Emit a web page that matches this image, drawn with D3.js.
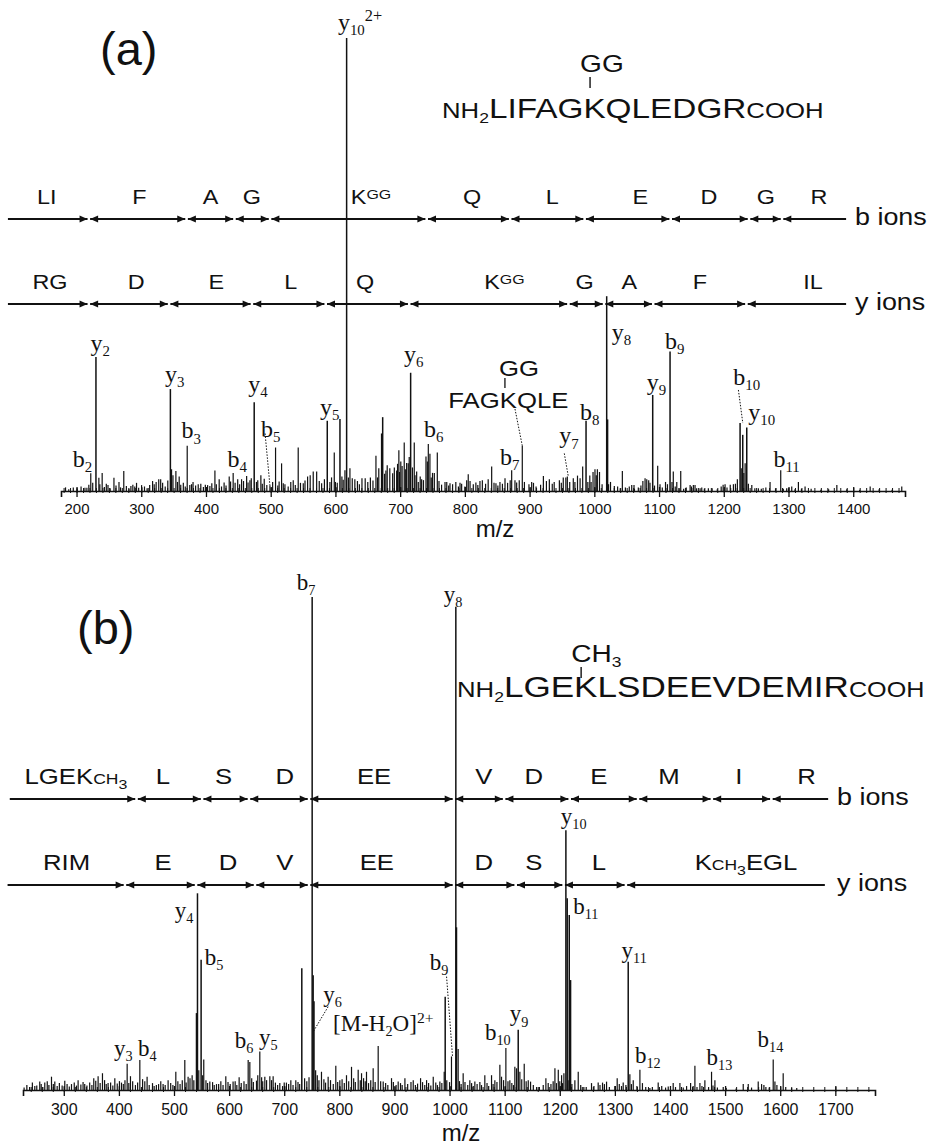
<!DOCTYPE html>
<html>
<head>
<meta charset="utf-8">
<script src="https://cdn.jsdelivr.net/npm/d3@7"></script>
<style>
body { margin: 0; background: #fff; }
svg { display: block; }
</style>
</head>
<body>
<script>
// ---------- panel (a): NH2-LIFAGK(GG)QLEDGR-COOH ----------
var mzDomainA = [176, 1480];
var tickLabelsA = [200, 300, 400, 500, 600, 700, 800, 900, 1000, 1100, 1200, 1300, 1400];

// [m/z, relative intensity %]
var peaksA = [[183,0.8],[213,0.7],[222,3.9],[230,29.6],[234.5,2.9],[239.6,4],[248.6,1.3],[257.8,2.9],[265.6,2],[273,4.4],
  [284,1.1],[292.7,1.8],[300.5,1.3],[317.5,2.2],[327,2.6],[330,2.6],[345,22.5],[346.8,4.8],[353.5,4.4],[358.6,3.2],
  [371,10],[377.7,1.5],[388,1.5],[402.5,1.3],[413.8,4.5],[420.4,2.6],[435.9,3.2],[442,4],[455,2.6],[462.8,3.3],
  [467.9,2.4],[474.5,19.6],[478,2],[484.8,3.5],[498.8,1.2],[507.5,9.6],[516.8,6.1],[519.4,1.7],[534.8,2.4],[542.5,9.6],
  [550.3,1.7],[565.7,4.3],[571,4.3],[578.7,1.7],[587.4,15.5],[591.5,2],[598.2,8.5],[602.8,1.8],[607,15.9],[614.7,4.6],
  [617.3,100],[622.4,5],[630,2.6],[641,2.8],[646,2.8],[662.6,7.8],[671.4,12.7],[673,16.3],[680,5.7],[684,5],
  [688.4,3.9],[694.6,4.5],[698,9],[701,6.5],[706.3,10.7],[712.5,6.1],[716.2,26.1],[721.8,10.7],[725.5,4.3],[733.2,2.6],
  [739.9,7.6],[743.5,10.4],[746,8.2],[752.8,4],[757.4,8.5],[769.3,2],[777,1.7],[792.5,1.8],[802.8,2.4],[805.2,3.7],
  [817,1.9],[823.3,2.2],[841.4,5.4],[848,1.7],[854.2,2],[872.3,4.6],[877.4,2.4],[888.7,10],[903.2,2],[921.3,3.3],
  [930.5,2.6],[952,3],[958.3,3.2],[967.5,2.8],[982,5.4],[987.2,15.5],[995,2],[1001,4.8],[1004.7,4.8],[1019.1,43],
  [1020.5,15.8],[1030.9,1.1],[1043.3,4.4],[1057.8,1.3],[1061.3,1.3],[1078.4,2.8],[1081,2.6],[1090.2,21.2],[1097.9,5.6],[1101.5,1.5],
  [1117,30.8],[1122,4.3],[1127.4,2],[1133.5,4.4],[1148,1.3],[1153,1.3],[1155.6,1.3],[1163.4,0.6],[1176.2,0.6],[1202,1.5],
  [1214.9,1.5],[1225.2,15],[1229.3,12.4],[1233,6.1],[1235.5,14],[1243.3,1.3],[1253.5,0.6],[1271.5,2],[1288,4.6],[1297.2,0.6],
  [1305,1],[1315.3,2],[1325.6,1],[1374.7,1.3],[1426.2,1],[1475,1]];

var noiseA = [[188,0.4],[195,0.8],[201,0.5],[207,1.0],[216,0.7],[219,1.4],[225,1.8],[236,1.5],[243,0.9],[246,1.6],
  [252,0.6],[261,1.2],[268,0.8],[277,1.1],[281,0.5],[287,1.4],[290,1.0],[296,0.7],[305,1.0],[309,0.6],[313,1.3],[320,1.5],
  [323,2.0],[333,1.8],[337,1.0],[341,2.3],[349,3.5],[356,2.0],[361,1.4],[365,1.8],[368,1.0],[375,1.3],[380,2.0],[384,1.2],
  [392,1.6],[396,0.9],[399,1.4],[406,1.1],[409,1.7],[416,1.5],[424,1.0],[428,1.9],[431,1.2],[438,2.1],[445,1.8],[449,2.6],
  [452,1.5],[458,2.2],[465,1.9],[470,2.8],[480,2.4],[487,1.6],[490,2.7],[494,1.3],[503,2.0],[511,1.2],[513,2.1],[522,1.5],
  [527,1.0],[531,2.0],[538,1.3],[546,1.8],[553,2.3],[557,3.2],[561,3.5],[575,2.2],[583,2.6],[594,3.0],[600,2.0],[610,3.2],
  [612,2.5],[620,3.0],[626,2.8],[634,2.2],[637,1.5],[650,2.0],[654,3.0],[658,2.3],[665,3.0],[667,5.0],[676,3.8],[678,4.5],
  [691,5.2],[696,6.0],[699,4.2],[703,5.5],[708,4.8],[710,6.2],[714,7.5],[719,5.2],[723,3.5],[728,2.0],[731,3.2],[736,2.4],
  [742,6.5],[748,3.0],[750,4.0],[760,2.2],[764,1.4],[772,2.0],[775,1.2],[781,1.5],[786,2.0],[790,1.0],[795,1.6],[800,1.0],
  [808,2.2],[813,1.5],[820,1.3],[827,2.4],[832,1.6],[836,2.6],[845,1.8],[851,1.2],[858,1.6],[862,2.8],[866,1.8],[870,2.4],
  [880,1.9],[884,2.4],[892,2.0],[899,1.5],[906,1.8],[910,1.0],[917,1.4],[926,2.2],[935,1.6],[938,2.0],[946,2.4],[949,1.8],
  [956,3.0],[962,2.0],[970,2.0],[974,3.4],[978,2.8],[990,2.0],[993,3.4],[998,4.2],[1003,3.5],[1008,4.2],[1012,1.5],[1022,1.5],
  [1025,2.0],[1036,1.0],[1040,0.6],[1048,0.8],[1054,1.0],[1062,0.5],[1068,0.8],[1072,1.2],[1075,2.2],[1084,2.4],[1086,1.8],
  [1093,1.2],[1105,0.8],[1110,2.0],[1113,1.5],[1120,2.0],[1125,1.0],[1131,0.6],[1138,0.5],[1142,0.8],[1150,1.0],[1158,0.6],
  [1166,0.8],[1170,0.5],[1182,0.6],[1190,0.4],[1196,1.0],[1199,1.4],[1205,0.8],[1210,1.4],[1218,1.6],[1221,2.6],[1227,5.0],
  [1231,4.0],[1238,1.6],[1248,0.6],[1258,0.5],[1265,0.8],[1280,0.6],[1292,0.5],[1300,0.6],[1310,0.4],[1320,0.5],[1335,0.5],
  [1350,0.3],[1362,0.4],[1390,0.4],[1410,0.3],[1440,0.4],[1460,0.3]];

// ion labels: [label, m/z of left edge, baseline in % intensity]
var ionLabelsA = [["y_{10}^{2+}",603.8,101.8],["y_{2}",221.6,31],["b_{2}",194.3,5.3],["y_{3}",336.5,24.1],["b_{3}",362.3,11.6],
  ["b_{4}",433.4,5.4],["y_{4}",465.2,21.9],["b_{5}",484.9,12],["y_{5}",576,16.8],["y_{6}",705.9,28.5],["b_{6}",736.8,12],
  ["b_{7}",854.3,5.7],["y_{7}",945.9,10.5],["b_{8}",977.9,15.7],["y_{8}",1026.9,33.3],["y_{9}",1081,22.3],["b_{9}",1109.3,31.3],
  ["b_{10}",1214.8,23.4],["y_{10}",1238,15.7],["b_{11}",1276.7,5.4]];
// dotted leaders: [m/z from, % from, m/z to, % to]
var leadersA = [[491.3,12.7,498.8,1.2],[877.4,18.1,888.7,10],[953.6,8.3,959.8,3.2],[1222.6,22.3,1229.4,15]];
// internal fragment label
var internalA = {text: "FAGKQLE", mod: "GG", mz: 774.4, rel: 18.3};

var rowEndsA = [94, 1389];
var bCutsA = [219, 370, 444, 499, 741, 870, 985, 1118, 1239, 1290];
var bNamesA = ["LI", "F", "A", "G", "K^{GG}", "Q", "L", "E", "D", "G", "R"];
var bNameMzA = [154, 297, 407, 471, 655, 811, 935, 1071, 1177, 1265, 1347];
var yCutsA = [219, 343, 471, 585, 714, 960, 1015, 1091, 1235];
var yNamesA = ["RG", "D", "E", "L", "Q", "K^{GG}", "G", "A", "F", "IL"];
var yNameMzA = [159, 292, 416, 531, 646, 861, 985, 1054, 1163, 1338];

// ---------- panel (b): NH2-LGEK(CH3)LSDEEVDEMIR-COOH ----------
var mzDomainB = [226, 1772];
var tickLabelsB = [300, 400, 500, 600, 700, 800, 900, 1000, 1100, 1200, 1300, 1400, 1500, 1600, 1700];

var peaksB = [[247.4,0.8],[256.4,1.7],[265.5,1.5],[277.7,2.7],[283.7,1.7],[301.8,1.9],[314,1.2],[326,2],[338,1.2],[354.4,2.4],
  [362.3,2.8],[370.2,3.4],[380.4,1.4],[392.6,2.4],[404.7,1.5],[415,5.3],[421,2.8],[438,6.1],[451.2,2.7],[468,1],
  [480.2,1.2],[489.3,2],[503.3,3.7],[519.6,6.1],[525.6,2.7],[532.9,3],[540.8,15.6],[542.6,39.9],[549.2,26.4],[554,6.2],
  [565,1.7],[577.1,1.2],[594,2.8],[607.2,1.7],[618.2,2.6],[634.6,6.1],[637.6,5.7],[649.7,1.9],[655.7,7.8],[664.8,2.7],
  [673.9,2.8],[679.9,2.8],[704,1.5],[721,2],[731.9,24.7],[750.7,100],[752.5,23.3],[754,18],[767.6,3.7],[779.7,2.7],
  [793.6,4.9],[800.9,2],[813,3],[822.1,4.7],[834.2,4.1],[840.3,3.4],[849.3,3.7],[861.4,4.4],[870.5,8.9],[879.6,1.7],
  [894.7,2.4],[906.8,1.7],[919,2.4],[934.1,2],[947.4,2.4],[958.3,2],[970.4,2.7],[982.4,1.7],[990.3,3.7],[992.1,18.9],
  [1003.5,6.8],[1011.4,98],[1012.6,33],[1015.6,8.3],[1024.7,3.4],[1036.8,2],[1045.9,1.7],[1064,3],[1076.2,3],[1082.2,2],
  [1091.3,5.1],[1094.3,2.7],[1102.2,8.5],[1109.4,2],[1118.5,4.7],[1121.6,4.4],[1124.6,12.2],[1127.6,3.7],[1135.5,5.3],[1142.8,2],
  [1147,1.7],[1157.9,0.6],[1174.8,2.4],[1179,1.4],[1191.2,4.4],[1197.3,4.1],[1203.3,3],[1207.5,3.4],[1211.1,52.7],[1213.5,38.9],
  [1217.2,35.5],[1219.6,22.3],[1227.4,2],[1233.5,3.7],[1243.7,0.6],[1257.6,1.4],[1269.7,1.5],[1277.6,1.5],[1284.9,1.7],[1304.2,2.4],
  [1315.1,1.5],[1324.2,26],[1327.2,3.2],[1333.3,2],[1345.4,4.1],[1363.5,0.4],[1378.6,1.5],[1396.8,0.7],[1405.8,1.4],[1418,1.4],
  [1430.1,0.8],[1437.4,1.4],[1445.2,4.9],[1454.3,1.4],[1463.3,2],[1475.4,3.7],[1481.5,2],[1496.6,0.6],[1532.9,1.2],[1542,1.2],
  [1560.1,1.7],[1566.2,1.2],[1570.4,1],[1587.3,6.2],[1590.4,1.7],[1605.4,3.4],[1620.6,0.4]];

var noiseB = [[228,0.5],[233,1.0],[238,0.6],[243,1.5],[251,0.9],[259,1.2],[262,0.6],[270,1.8],[273,1.0],[281,1.2],[288,0.8],
  [292,1.4],[297,0.9],[306,1.2],[310,0.7],[319,1.5],[323,0.9],[331,1.1],[335,1.6],[342,0.9],[347,1.5],[351,1.0],[358,1.9],
  [366,1.4],[374,2.0],[377,1.2],[385,1.5],[389,0.9],[397,1.3],[401,1.8],[408,1.2],[411,2.0],[418,1.4],[425,1.8],[430,1.0],
  [434,1.5],[443,2.2],[447,1.8],[455,1.0],[461,1.4],[464,0.8],[472,1.2],[476,1.8],[484,1.0],[494,1.4],[498,1.0],[507,1.8],
  [511,1.2],[515,2.0],[522,1.5],[529,2.4],[536,2.0],[545,4.0],[552,3.0],[558,2.0],[561,1.4],[570,1.6],[573,1.0],[581,1.2],
  [585,1.8],[589,1.0],[598,1.6],[602,1.2],[611,1.8],[614,1.0],[622,1.4],[627,1.8],[631,1.2],[641,2.4],[644,1.6],[652,3.0],
  [659,2.6],[661,1.8],[668,2.0],[677,2.0],[684,1.5],[688,1.0],[692,1.4],[697,0.8],[700,1.5],[708,1.2],[712,2.0],[716,1.0],
  [725,1.6],[728,1.2],[737,2.4],[741,1.8],[745,2.6],[757,4.0],[760,3.0],[763,2.0],[772,2.2],[775,1.5],[784,2.0],[789,1.2],
  [797,1.6],[805,2.2],[809,1.4],[817,1.8],[826,2.4],[829,1.6],[838,2.0],[844,2.4],[847,1.8],[853,1.4],[857,2.0],[865,1.6],
  [875,1.8],[884,1.4],[888,1.0],[898,1.6],[903,1.0],[911,1.4],[914,1.0],[924,1.2],[930,1.6],[938,1.0],[942,1.3],[951,1.6],
  [955,1.0],[962,1.4],[966,0.9],[975,1.5],[978,1.0],[986,1.4],[995,2.0],[1000,1.6],[1018,1.8],[1021,1.2],[1028,1.6],[1033,1.0],
  [1040,1.4],[1043,0.8],[1050,1.2],[1055,1.6],[1058,1.0],[1068,1.4],[1071,0.8],[1079,1.2],[1086,1.6],[1098,2.0],[1106,1.8],
  [1113,1.4],[1116,1.0],[1131,2.2],[1139,1.8],[1152,1.0],[1163,0.6],[1170,1.0],[1184,1.2],[1188,1.8],[1194,1.4],[1200,1.8],
  [1205,1.4],[1215,2.0],[1222,1.2],[1238,1.0],[1248,0.6],[1262,0.8],[1273,1.0],[1281,1.2],[1290,0.6],[1300,0.8],[1308,1.2],
  [1312,0.8],[1320,1.0],[1330,1.2],[1340,0.8],[1350,1.4],[1356,0.6],[1368,0.6],[1385,0.8],[1392,0.5],[1410,0.6],[1424,0.5],
  [1442,0.8],[1449,0.6],[1458,0.8],[1470,0.6],[1478,0.9],[1486,0.5],[1502,0.4],[1520,0.3],[1548,0.5],[1574,0.6],[1580,0.5],
  [1594,1.0],[1610,0.6],[1630,0.4]];

var ionLabelsB = [["b_{7}",722.9,101.4],["y_{8}",989.7,99],["y_{10}",1202,54],["y_{3}",391.3,6.9],["b_{4}",434.8,6.9],
  ["y_{4}",501.5,34.8],["b_{5}",555.9,25.4],["b_{6}",610.3,8.5],["y_{5}",654.4,9.1],["y_{6}",770.6,17.9],
  ["[M-H_{2}O]^{2+}",788.7,12],["b_{9}",964.2,24.3],["b_{10}",1064.1,10.1],["y_{9}",1109.4,13.9],["b_{11}",1224.3,35.8],
  ["y_{11}",1312.2,26.7],["b_{12}",1336.3,5.4],["b_{13}",1466.4,5.1],["b_{14}",1559,8.8]];
var leadersB = [[779.7,16.9,752.5,11.8],[994.6,23,1005.4,6.8]];

var rowEndsB = [202, 1687];
var bCutsB = [432, 551, 636, 745, 1008, 1099, 1218, 1342, 1476, 1584];
var bNamesB = ["LGEK~{CH}_{3}", "L", "S", "D", "EE", "V", "D", "E", "M", "I", "R"];
var bNameMzB = [322, 480, 590, 701, 863, 1062, 1153, 1271, 1398, 1525, 1648];
var yRowEndsB = [198, 1681];
var yCutsB = [411, 540, 647, 745, 1008, 1120, 1207, 1320];
var yNamesB = ["RIM", "E", "D", "V", "EE", "D", "S", "L", "K~{CH}_{3}EGL"];
var yNameMzB = [305, 480, 598, 701, 868, 1062, 1153, 1271, 1538];

// ---------- drawing ----------
var SANS = '"Liberation Sans", Arial, sans-serif';
var SERIF = '"Liberation Serif", "Times New Roman", serif';
var STRETCH = 1.17;
var INK = "#111";

var svg = d3.select("body").append("svg").attr("width", 931).attr("height", 1146);

// tiny markup: ^{..} raised small, ~{..} small, _{..} subscript
function rich(parent, str, F, family, supShift) {
  var t = parent.append("text").style("font-family", family).attr("font-size", F).attr("fill", INK);
  var re = /(\^|~|_)\{([^}]*)\}|([^\^~_]+)/g, m, cur = 0;
  while ((m = re.exec(str)) !== null) {
    var txt = m[3] || m[2], fs = F, sh = 0;
    if (m[1] == "^") { fs = F * 0.68; sh = supShift; }
    else if (m[1] == "~") { fs = F * 0.68; }
    else if (m[1] == "_") { fs = F * 0.62; sh = F * 0.22; }
    t.append("tspan").attr("font-size", fs).attr("dy", sh - cur).text(txt);
    cur = sh;
  }
  return t;
}

function stretched(px, py) {
  return svg.append("g").attr("transform", "translate(" + px + "," + py + ") scale(" + STRETCH + ",1)");
}

function arrowHead(g, tx, ty, dir) {
  g.append("path")
    .attr("d", "M" + tx + "," + ty + "L" + (tx - dir * 8) + "," + (ty - 3.6) + "L" + (tx - dir * 8) + "," + (ty + 3.6) + "Z")
    .attr("fill", INK);
}

function drawRow(x, rowY, ends, cuts, names, nameMz, F, tag, tagX) {
  var g = svg.append("g");
  var b = [ends[0]].concat(cuts, [ends[1]]);
  var gap = 1.3;
  for (var i = 0; i < b.length - 1; i++) {
    var x0 = x(b[i]) + (i > 0 ? gap : 0);
    var x1 = x(b[i + 1]) - (i < b.length - 2 ? gap : 0);
    g.append("line").attr("x1", x0).attr("x2", x1).attr("y1", rowY).attr("y2", rowY)
      .attr("stroke", INK).attr("stroke-width", 2);
    if (i > 0) arrowHead(g, x0, rowY, -1);
    if (i < b.length - 2) arrowHead(g, x1, rowY, 1);
  }
  names.forEach(function(n, i) {
    rich(stretched(x(nameMz[i]), rowY - 15), n, F, SANS, -F * 0.23).attr("text-anchor", "middle");
  });
  rich(stretched(tagX, rowY + 6), tag, 23, SANS, 0);
}

// modified peptide: the modification text sits over the K (char index kIdx)
function drawPeptide(px, py, seqParts, kIdx, mod, modDy) {
  var g = stretched(px, py);
  var t = g.append("text").style("font-family", SANS).attr("fill", INK);
  var cur = 0;
  seqParts.forEach(function(p) {
    t.append("tspan").attr("font-size", p[1]).attr("dy", p[2] - cur).text(p[0]);
    cur = p[2];
  });
  var r = t.node().getExtentOfChar(kIdx);
  var kx = px + STRETCH * (r.x + r.width * 0.3);
  svg.append("line").attr("x1", kx).attr("x2", kx).attr("y1", py + modDy + 5).attr("y2", py + modDy + 16)
    .attr("stroke", INK).attr("stroke-width", 1.4);
  rich(stretched(kx - 10, py + modDy), mod, 24, SANS, 0);
}

function drawPanel(P) {
  var x = d3.scaleLinear().domain(P.domain).range(P.xRange);
  var y = d3.scaleLinear().domain([0, 100]).range([P.baseY, P.topY]);

  // spectrum sticks
  svg.append("g").selectAll("line").data(P.noise.concat(P.peaks)).enter().append("line")
    .attr("x1", function(d) { return x(d[0]); })
    .attr("x2", function(d) { return x(d[0]); })
    .attr("y1", P.baseY)
    .attr("y2", function(d) { return y(d[1]); })
    .attr("stroke", INK)
    .attr("stroke-width", function(d) { return d[1] > 12 ? 1.5 : 1.2; });

  // minor ticks
  var minor = svg.append("g").attr("transform", "translate(0," + P.baseY + ")")
    .call(d3.axisBottom(x).tickValues(d3.range(P.minorStart, P.domain[1], P.minorStep)).tickSize(3).tickFormat(""));
  minor.select(".domain").remove();
  minor.selectAll(".tick line").attr("y1", -3).attr("y2", 2).attr("stroke", INK);

  // major ticks + labels
  var ax = svg.append("g").attr("transform", "translate(0," + P.baseY + ")")
    .call(d3.axisBottom(x).tickValues(P.ticks).tickFormat(d3.format("d")).tickSizeOuter(0).tickSize(6));
  ax.select(".domain").attr("stroke", INK).attr("stroke-width", 1.6);
  ax.selectAll(".tick line").attr("y1", -4).attr("y2", 6).attr("stroke", INK).attr("stroke-width", 1.3);
  ax.selectAll(".tick text").attr("y", P.tickDy).attr("dy", 0)
    .style("font-family", SANS).attr("font-size", P.tickFont).attr("fill", INK);

  svg.append("text").attr("x", P.mzLabel[0]).attr("y", P.mzLabel[1]).attr("text-anchor", "middle")
    .style("font-family", SANS).attr("font-size", 24).attr("fill", INK).text("m/z");

  // fragment rows
  drawRow(x, P.bRowY, P.bEnds, P.bCuts, P.bNames, P.bNameMz, P.rowFont, "b ions", P.tagX);
  drawRow(x, P.yRowY, P.yEnds, P.yCuts, P.yNames, P.yNameMz, P.rowFont, "y ions", P.tagX);

  // dotted leaders
  svg.append("g").selectAll("line").data(P.leaders).enter().append("line")
    .attr("x1", function(d) { return x(d[0]); }).attr("y1", function(d) { return y(d[1]); })
    .attr("x2", function(d) { return x(d[2]); }).attr("y2", function(d) { return y(d[3]); })
    .attr("stroke", INK).attr("stroke-width", 1).attr("stroke-dasharray", "1.5,1.5");

  // ion labels
  var lg = svg.append("g");
  P.labels.forEach(function(l) {
    rich(lg, l[0], P.labelFont, SERIF, -P.labelFont * 0.36)
      .attr("x", x(l[1])).attr("y", y(l[2]));
  });

  // panel letter
  svg.append("text").attr("x", P.letter[1]).attr("y", P.letter[2])
    .style("font-family", SANS).attr("font-size", 47).attr("fill", INK).text(P.letter[0]);

  return { x: x, y: y };
}

var A = drawPanel({
  domain: mzDomainA, xRange: [61, 905], baseY: 491, topY: 38,
  ticks: tickLabelsA, minorStart: 180, minorStep: 10, tickDy: 23, tickFont: 15, mzLabel: [495, 537],
  peaks: peaksA, noise: noiseA, labels: ionLabelsA, leaders: leadersA, labelFont: 24,
  bRowY: 219, yRowY: 304, rowFont: 20, tagX: 855,
  bEnds: rowEndsA, bCuts: bCutsA, bNames: bNamesA, bNameMz: bNameMzA,
  yEnds: rowEndsA, yCuts: yCutsA, yNames: yNamesA, yNameMz: yNameMzA,
  letter: ["(a)", 100, 65]
});

var B = drawPanel({
  domain: mzDomainB, xRange: [23, 875], baseY: 1090, topY: 597,
  ticks: tickLabelsB, minorStart: 240, minorStep: 20, tickDy: 25, tickFont: 16, mzLabel: [461, 1141],
  peaks: peaksB, noise: noiseB, labels: ionLabelsB, leaders: leadersB, labelFont: 23,
  bRowY: 799, yRowY: 885, rowFont: 22, tagX: 837,
  bEnds: rowEndsB, bCuts: bCutsB, bNames: bNamesB, bNameMz: bNameMzB,
  yEnds: yRowEndsB, yCuts: yCutsB, yNames: yNamesB, yNameMz: yNameMzB,
  letter: ["(b)", 77, 644]
});

// internal fragment FAGK(GG)QLE in panel (a)
(function() {
  var px = A.x(internalA.mz), py = A.y(internalA.rel);
  var g = stretched(px, py);
  var t = g.append("text").style("font-family", SANS).attr("font-size", 22).attr("fill", INK).text(internalA.text);
  var r = t.node().getExtentOfChar(3);
  var kx = px + STRETCH * (r.x + r.width * 0.3);
  svg.append("line").attr("x1", kx).attr("x2", kx).attr("y1", py - 30).attr("y2", py - 20)
    .attr("stroke", INK).attr("stroke-width", 1.3);
  rich(stretched(kx - 6, py - 32), internalA.mod, 22, SANS, 0);
})();

// peptide sequences
drawPeptide(442, 118, [["NH", 22, 0], ["2", 15, 5], ["LIFAGKQLEDGR", 28.5, 0], ["COOH", 22, 0]], 8, "GG", -46);
drawPeptide(457, 697, [["NH", 22, 0], ["2", 15, 5], ["LGEKLSDEEVDEMIR", 30, 0], ["COOH", 21.5, 0]], 6, "CH_{3}", -35);
</script>
</body>
</html>
